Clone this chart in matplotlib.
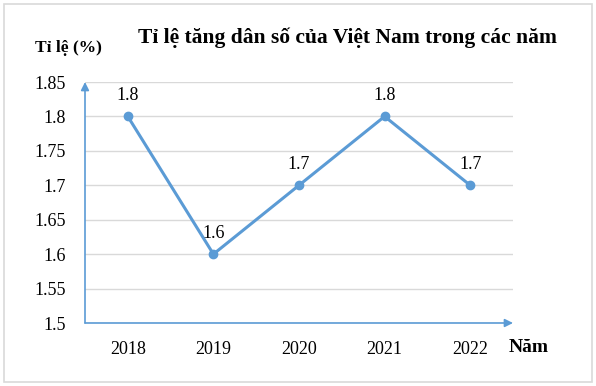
import matplotlib
matplotlib.use("Agg")
import matplotlib.pyplot as plt
from matplotlib.patches import Rectangle

years = ["2018", "2019", "2020", "2021", "2022"]
values = [1.8, 1.6, 1.7, 1.8, 1.7]
labels = ["1.8", "1.6", "1.7", "1.8", "1.7"]
yticks = [1.5, 1.55, 1.6, 1.65, 1.7, 1.75, 1.8, 1.85]
ytick_labels = ["1.5", "1.55", "1.6", "1.65", "1.7", "1.75", "1.8", "1.85"]

plt.rcParams['font.family'] = ['Liberation Serif', 'DejaVu Serif']
blue = "#5B9BD5"

fig = plt.figure(figsize=(5.96, 3.86), dpi=100)
fig.patches.append(Rectangle((4/596, 4/386), 588/596, 378/386, transform=fig.transFigure,
                             fill=False, edgecolor="#D9D9D9", linewidth=1.2))
ax = fig.add_axes([85/596, 63/386, 428/596, 241/386])
x = list(range(len(years)))
ax.plot(x, values, color=blue, linewidth=2.2, marker='o', markersize=6, zorder=3)
for xi, v, lab in zip(x, values, labels):
    ax.annotate(lab, (xi, v), xytext=(0, 9), textcoords='offset points',
                ha='center', va='bottom', fontsize=13)
ax.set_xlim(-0.5, 4.5)
ax.set_ylim(1.5, 1.85)
ax.set_yticks(yticks)
ax.set_yticklabels(ytick_labels)
ax.set_xticks(x)
ax.set_xticklabels(years)
ax.tick_params(axis='both', length=0, labelsize=13)
ax.tick_params(axis='x', pad=13)
ax.tick_params(axis='y', pad=14)
ax.grid(axis='y', color="#D9D9D9", linewidth=1)
ax.set_axisbelow(True)
for s in ax.spines.values():
    s.set_visible(False)
# axes with arrows
ax.annotate('', xy=(1.0, 0), xytext=(0, 0), xycoords='axes fraction',
            arrowprops=dict(arrowstyle='-|>', color=blue, lw=1.2, mutation_scale=12,
                            shrinkA=0, shrinkB=0))
ax.annotate('', xy=(0, 1.0), xytext=(0, 0), xycoords='axes fraction',
            arrowprops=dict(arrowstyle='-|>', color=blue, lw=1.2, mutation_scale=12,
                            shrinkA=0, shrinkB=0))

fig.text(347/596, 1 - 38/386, "Tỉ lệ tăng dân số của Việt Nam trong các năm",
         ha='center', va='center', fontsize=15.5, fontweight='bold')
fig.text(68/596, 1 - 48/386, "Tỉ lệ (%)", ha='center', va='center', fontsize=12.5, fontweight='bold')
fig.text(529/596, 1 - 347/386, "Năm", ha='center', va='center', fontsize=14, fontweight='bold')

fig.savefig("out.png", dpi=100)
